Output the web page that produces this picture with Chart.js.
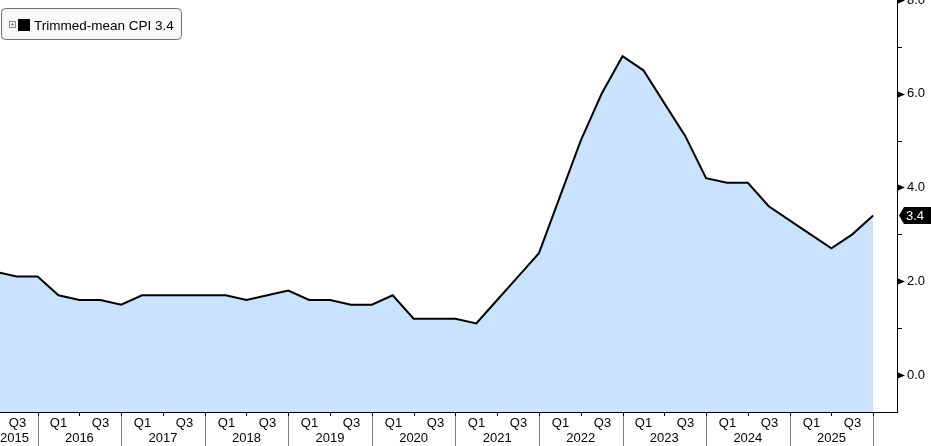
<!DOCTYPE html>
<html>
<head>
<meta charset="utf-8">
<script src="https://cdn.jsdelivr.net/npm/chart.js@4/dist/chart.umd.min.js"></script>
<style>
  html, body { margin: 0; padding: 0; background: #fff; }
  #c { display: block; }
</style>
</head>
<body>
<canvas id="c" width="931" height="446"></canvas>
<script>
// quarterly series, first point is Q2 2015 (sits just off the left edge)
const firstYear = 2015;
const firstQuarter = 2;
const years = [2015, 2016, 2017, 2018, 2019, 2020, 2021, 2022, 2023, 2024, 2025];
const values = [
  2.2, 2.1, 2.1,            // 2015 Q2-Q4
  1.7, 1.6, 1.6, 1.5,       // 2016
  1.7, 1.7, 1.7, 1.7,       // 2017
  1.7, 1.6, 1.7, 1.8,       // 2018
  1.6, 1.6, 1.5, 1.5,       // 2019
  1.7, 1.2, 1.2, 1.2,       // 2020
  1.1, 1.6, 2.1, 2.6,       // 2021
  3.8, 5.0, 6.0, 6.8,       // 2022
  6.5, 5.8, 5.1, 4.2,       // 2023
  4.1, 4.1, 3.6, 3.3,       // 2024
  3.0, 2.7, 3.0, 3.4        // 2025
];
const yTicks = [0, 2, 4, 6, 8];
const seriesName = 'Trimmed-mean CPI';
const lastValue = values[values.length - 1];

const FONT = '13px "Liberation Sans", Arial, sans-serif';

// quarter number and year for each point index
function quarterOf(i) { return ((firstQuarter - 1 + i) % 4) + 1; }
function yearOf(i) { return firstYear + Math.floor((firstQuarter - 1 + i) / 4); }

const overlay = {
  id: 'overlay',
  afterDraw(chart) {
    const ctx = chart.ctx;
    const xs = chart.scales.x;
    const ys = chart.scales.y;
    const area = chart.chartArea;
    const axisY = area.bottom;

    ctx.save();
    ctx.font = FONT;
    ctx.fillStyle = '#000';
    ctx.textBaseline = 'alphabetic';

    // x axis baseline
    ctx.strokeStyle = '#000';
    ctx.lineWidth = 1;
    ctx.beginPath();
    ctx.moveTo(area.left, axisY + 0.5);
    ctx.lineTo(area.right + 1, axisY + 0.5);
    ctx.stroke();

    // quarter ticks / labels, year separators
    for (let i = 0; i < values.length + 1; i++) {
      const q = quarterOf(i);
      const px = Math.round(xs.getPixelForValue(i)) + 0.5;
      if (px < area.left || px > area.right + 2) continue;
      if (q === 4) {
        ctx.strokeStyle = '#808080';
        ctx.beginPath();
        ctx.moveTo(px, axisY);
        ctx.lineTo(px, 446);
        ctx.stroke();
        ctx.strokeStyle = '#000';
        ctx.beginPath();
        ctx.moveTo(px, axisY);
        ctx.lineTo(px, axisY + 4);
        ctx.stroke();
      } else if (q === 2) {
        ctx.strokeStyle = '#000';
        ctx.beginPath();
        ctx.moveTo(px, axisY);
        ctx.lineTo(px, axisY + 4);
        ctx.stroke();
      } else if (i < values.length) {
        ctx.textAlign = 'center';
        ctx.fillText('Q' + q, px, 427);
      }
    }

    // year labels centred on Q2 of each year
    years.forEach(yr => {
      const idx = (yr - firstYear) * 4 + (2 - firstQuarter);
      let cx = xs.getPixelForValue(idx);
      const w = ctx.measureText(String(yr)).width;
      if (cx - w / 2 < 0) cx = w / 2;
      ctx.textAlign = 'center';
      ctx.fillText(String(yr), cx, 442);
    });

    // y axis tick marks
    const ax = area.right + 1;
    for (let v = 0; v <= 8; v++) {
      const py = Math.round(ys.getPixelForValue(v)) + 0.5;
      ctx.fillStyle = '#000';
      ctx.strokeStyle = '#000';
      if (yTicks.includes(v)) {
        ctx.beginPath();
        ctx.moveTo(ax, py - 3);
        ctx.lineTo(ax + 7, py);
        ctx.lineTo(ax, py + 3);
        ctx.closePath();
        ctx.fill();
      } else {
        ctx.beginPath();
        ctx.moveTo(ax, py);
        ctx.lineTo(ax + 4, py);
        ctx.stroke();
      }
    }

    // last value badge
    const by = ys.getPixelForValue(lastValue);
    ctx.fillStyle = '#000';
    ctx.beginPath();
    ctx.moveTo(ax + 1, by);
    ctx.lineTo(ax + 6, by - 8.5);
    ctx.lineTo(931, by - 8.5);
    ctx.lineTo(931, by + 8.5);
    ctx.lineTo(ax + 6, by + 8.5);
    ctx.closePath();
    ctx.fill();
    ctx.fillStyle = '#fff';
    ctx.textAlign = 'left';
    ctx.textBaseline = 'middle';
    ctx.fillText(lastValue.toFixed(1), ax + 8, by + 1);

    // legend box
    const lx = 1.5, ly = 8.5, lw = 180, lh = 31, r = 4;
    ctx.beginPath();
    ctx.moveTo(lx + r, ly);
    ctx.lineTo(lx + lw - r, ly);
    ctx.arcTo(lx + lw, ly, lx + lw, ly + r, r);
    ctx.lineTo(lx + lw, ly + lh - r);
    ctx.arcTo(lx + lw, ly + lh, lx + lw - r, ly + lh, r);
    ctx.lineTo(lx + r, ly + lh);
    ctx.arcTo(lx, ly + lh, lx, ly + lh - r, r);
    ctx.lineTo(lx, ly + r);
    ctx.arcTo(lx, ly, lx + r, ly, r);
    ctx.closePath();
    ctx.fillStyle = '#f9f9f9';
    ctx.fill();
    ctx.strokeStyle = '#6e6e6e';
    ctx.lineWidth = 1;
    ctx.stroke();

    // small expand icon
    ctx.strokeStyle = '#8a8a8a';
    ctx.strokeRect(9.5, 21.5, 6, 6);
    ctx.beginPath();
    ctx.moveTo(11, 24.5); ctx.lineTo(14, 24.5);
    ctx.moveTo(12.5, 23); ctx.lineTo(12.5, 26);
    ctx.stroke();

    ctx.fillStyle = '#000';
    ctx.fillRect(18, 19, 12, 12);
    ctx.font = '13.5px "Liberation Sans", Arial, sans-serif';
    ctx.textAlign = 'left';
    ctx.textBaseline = 'alphabetic';
    ctx.fillText(seriesName + ' ' + lastValue.toFixed(1), 34, 30);

    ctx.restore();
  }
};

new Chart(document.getElementById('c').getContext('2d'), {
  type: 'line',
  data: {
    datasets: [{
      label: seriesName,
      data: values.map((v, i) => ({ x: i, y: v })),
      borderColor: '#000',
      borderWidth: 2,
      backgroundColor: '#c9e3ff',
      fill: 'start',
      pointRadius: 0,
      tension: 0
    }]
  },
  options: {
    responsive: false,
    animation: false,
    devicePixelRatio: 1,
    layout: { padding: { left: 0, top: 0, right: 0, bottom: 34 } },
    plugins: {
      legend: { display: false },
      tooltip: { enabled: false }
    },
    scales: {
      x: {
        type: 'linear',
        display: false,
        min: 0.2,
        max: 43.14
      },
      y: {
        position: 'right',
        min: -0.79,
        max: 8,
        grid: { display: false, drawTicks: false },
        border: { display: true, color: '#000', width: 1 },
        ticks: {
          stepSize: 1,
          includeBounds: false,
          padding: 10,
          color: '#000',
          font: { family: '"Liberation Sans", Arial, sans-serif', size: 13 },
          callback: v => (yTicks.includes(v) ? v.toFixed(1) : '')
        },
        afterFit(scale) {
          scale.width = 34;
          scale.paddingTop = 0;
          scale.paddingBottom = 0;
        }
      }
    }
  },
  plugins: [overlay]
});
</script>
</body>
</html>
